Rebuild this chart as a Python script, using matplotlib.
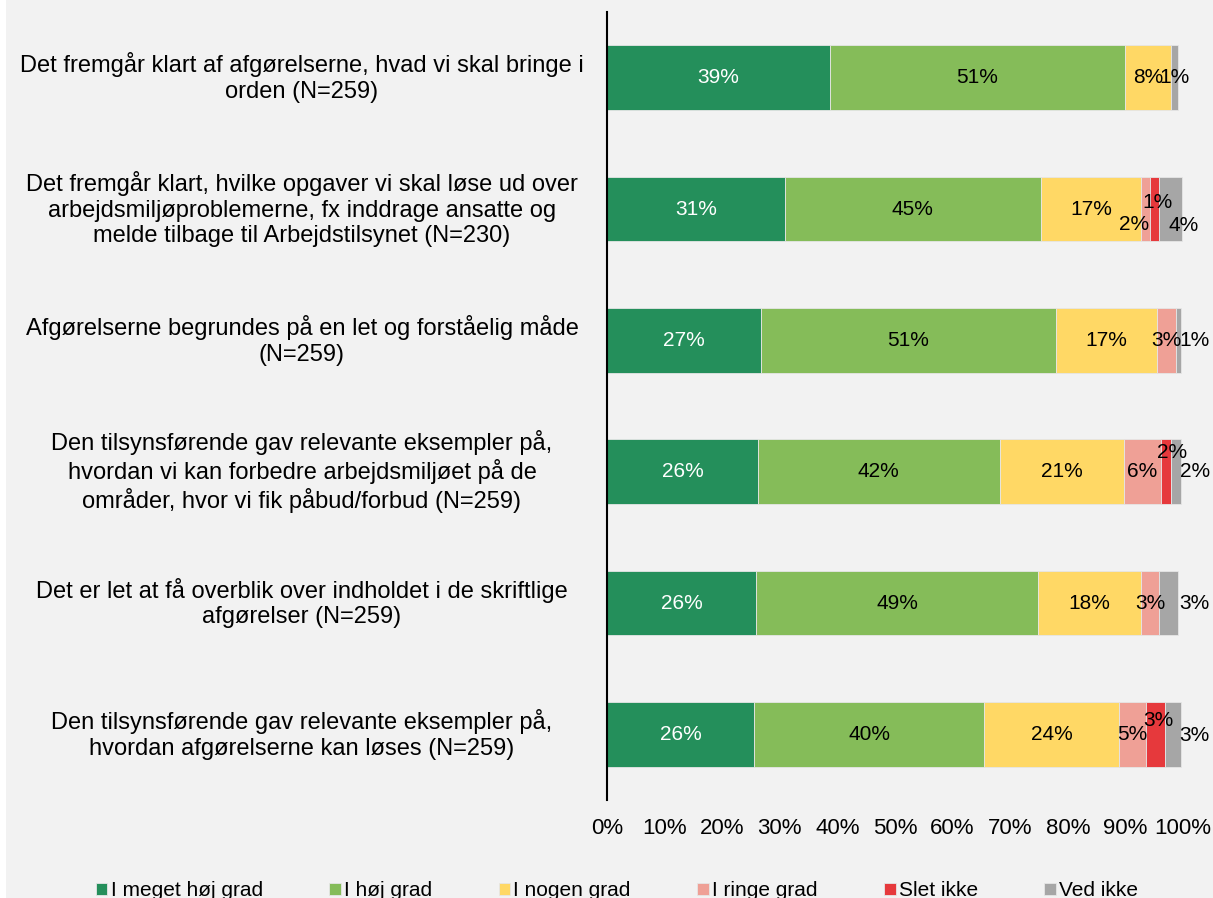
import matplotlib
matplotlib.use("Agg")
import matplotlib.pyplot as plt
import matplotlib.transforms as mtransforms
from matplotlib.patches import Rectangle
import numpy as np

plt.rcParams['font.family'] = ['Liberation Sans', 'DejaVu Sans']

# data, top row first
categories = [
    "Det fremgår klart af afgørelserne, hvad vi skal bringe i\norden (N=259)",
    "Det fremgår klart, hvilke opgaver vi skal løse ud over\narbejdsmiljøproblemerne, fx inddrage ansatte og\nmelde tilbage til Arbejdstilsynet (N=230)",
    "Afgørelserne begrundes på en let og forståelig måde\n(N=259)",
    "Den tilsynsførende gav relevante eksempler på,\nhvordan vi kan forbedre arbejdsmiljøet på de\nområder, hvor vi fik påbud/forbud (N=259)",
    "Det er let at få overblik over indholdet i de skriftlige\nafgørelser (N=259)",
    "Den tilsynsførende gav relevante eksempler på,\nhvordan afgørelserne kan løses (N=259)",
]
series = ["I meget høj grad", "I høj grad", "I nogen grad", "I ringe grad", "Slet ikke", "Ved ikke"]
meget_hoej = [38.7, 30.9, 26.7, 26.2, 25.9, 25.5]
hoej = [51.2, 44.4, 51.2, 42.0, 48.9, 40.0]
nogen = [8.0, 17.4, 17.5, 21.5, 17.9, 23.4]
ringe = [0.0, 1.6, 3.3, 6.4, 3.1, 4.7]
slet = [0.0, 1.6, 0.0, 1.9, 0.0, 3.3]
ved_ikke = [1.2, 4.0, 0.9, 1.6, 3.3, 2.8]
labels = [
    ["39%", "51%", "8%", "", "", "1%"],
    ["31%", "45%", "17%", "2%", "1%", "4%"],
    ["27%", "51%", "17%", "3%", "", "1%"],
    ["26%", "42%", "21%", "6%", "2%", "2%"],
    ["26%", "49%", "18%", "3%", "", "3%"],
    ["26%", "40%", "24%", "5%", "3%", "3%"],
]
colors = ["#248f5b", "#85bc59", "#ffd865", "#efa096", "#e6393c", "#a6a6a6"]
text_colors = ["white", "black", "black", "black", "black", "black"]

# label nudges in points (row, segment) -> (dx, dy), Excel had them moved by hand
nudge = {
    (1, 3): (-8, -11), (1, 4): (2, 5), (1, 5): (9, -12),
    (2, 5): (12, 0),
    (3, 4): (4, 14), (3, 5): (14, 0),
    (4, 5): (19, 0),
    (5, 4): (2, 10), (5, 5): (15, -1),
}

BG = "#f2f2f2"

fig = plt.figure(figsize=(12.13, 8.98), dpi=100)
fig.patch.set_facecolor("white")
fig.patches.append(Rectangle((6 / 1213, 0), 1, 1, transform=fig.transFigure,
                             facecolor=BG, edgecolor="none", zorder=-10))
ax = fig.add_axes([607 / 1213, 1 - 800 / 898, 576 / 1213, 788 / 898])
ax.set_facecolor(BG)
ax.patch.set_alpha(0)

vals = np.array([meget_hoej, hoej, nogen, ringe, slet, ved_ikke])
y = np.arange(len(categories))
left = np.zeros(len(categories))
for i, name in enumerate(series):
    ax.barh(y, vals[i], left=left, height=0.49, color=colors[i],
            edgecolor="#e6e6e6", linewidth=0.6, label=name)
    for r in range(len(categories)):
        txt = labels[r][i]
        if txt:
            dx, dy = nudge.get((r, i), (0, 0))
            ax.annotate(txt, (left[r] + vals[i][r] / 2, r), xytext=(dx, dy),
                        textcoords="offset points", ha="center", va="center",
                        fontsize=15, color=text_colors[i])
    left += vals[i]

ax.set_xlim(0, 100)
ax.set_ylim(len(categories) - 0.5, -0.5)
ax.set_xticks(np.arange(0, 101, 10))
ax.set_xticklabels([f"{v}%" for v in range(0, 101, 10)], fontsize=16)
ax.tick_params(axis="x", length=0, pad=13)
ax.set_yticks([])
for side in ["top", "bottom", "right"]:
    ax.spines[side].set_visible(False)
ax.spines["left"].set_linewidth(1.5)
ax.spines["left"].set_color("black")

trans = mtransforms.blended_transform_factory(fig.transFigure, ax.transData)
for r, cat in enumerate(categories):
    ax.text(302 / 1213, r, cat, transform=trans, ha="center", va="center",
            multialignment="center", fontsize=17, linespacing=1.2)

fig.legend(loc="center", bbox_to_anchor=(617 / 1213, 1 - 891 / 898), ncol=6, frameon=False,
           fontsize=15, handlelength=0.55, handleheight=0.55, handletextpad=0.15,
           columnspacing=3.2)

fig.savefig("out.png", dpi=100, facecolor=fig.get_facecolor())
